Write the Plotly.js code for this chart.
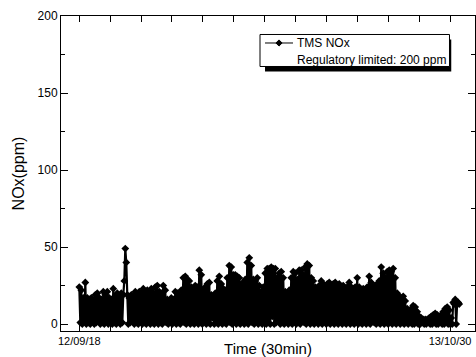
<!DOCTYPE html>
<html><head><meta charset="utf-8">
<script src="https://cdn.plot.ly/plotly-3.0.1.min.js"></script>
<style>html,body{margin:0;padding:0;background:#fff}#chart{width:476px;height:357px}</style>
</head><body><div id="chart"></div>
<script>
// Time axis: 2012-09-18 → 2013-10-30
const startLabel = '12/09/18';
const endLabel = '13/10/30';
const spanDays = 407;
const tickIntervals = 12;
const daysPerSample = 2.195;
const seriesName = 'TMS NOx';
const noteText = 'Regulatory limited: 200 ppm';

// NOx readings (ppm): local highs
const peaks = [
  24,22,17,27,17,16,17,15,19,20,
  17,16,21,19,21,17,16,23,18,20,
  18,20,19,49,19,17,19,18,21,19,
  21,20,23,21,22,21,23,20,24,25,
  21,20,25,22,16,15,17,16,21,20,
  18,22,30,31,29,28,24,22,25,24,
  35,32,22,24,26,27,19,18,20,28,
  31,26,23,22,30,38,37,32,32,31,
  30,26,27,29,40,43,38,29,28,30,
  25,21,24,33,36,36,37,36,36,30,
  33,34,30,21,20,22,30,34,33,29,
  35,35,32,37,39,38,30,28,24,23,
  25,28,26,25,26,27,25,26,27,25,
  26,24,25,23,24,27,24,23,24,30,
  24,22,23,21,24,31,27,24,25,26,
  28,37,33,30,34,35,34,36,30,20,
  18,17,18,15,10,8,10,12,11,8,
  5,4,3,3,3,4,5,6,7,6,
  5,6,8,10,11,9,4,14,16,14,
  13
];
// NOx readings (ppm): local lows between the highs
const troughs = [
  1,0,2,0,1,0,3,0,1,2,
  0,1,0,2,0,1,0,1,0,2,
  0,1,28,40,0,1,2,0,1,0,
  2,0,1,0,3,0,1,0,2,0,
  1,0,2,1,0,1,0,2,0,1,
  0,2,1,0,3,0,1,0,2,0,
  1,0,2,0,1,0,4,0,1,0,
  2,0,1,0,2,1,0,3,0,1,
  0,2,0,1,0,2,1,0,3,0,
  1,0,2,0,1,0,5,0,1,2,
  0,1,0,3,0,1,0,2,0,1,
  0,2,1,0,3,0,1,0,2,0,
  1,0,2,0,1,0,3,0,1,0,
  2,0,1,0,2,0,1,0,3,0,
  1,0,2,0,1,0,2,1,0,1,
  0,2,0,1,0,3,0,1,0,2,
  0,1,0,1,0,1,0,0,1,0,
  0,1,0,0,1,0,0,1,0,0,
  1,0,0,1,0,0,0,13,0,14
];

const t = [], v = [];
for (let i = 0; i < peaks.length; i++) {
  t.push(i * daysPerSample); v.push(peaks[i]);
  if (i < troughs.length) { t.push((i + 0.5) * daysPerSample); v.push(troughs[i]); }
}
const xTickVals = [], xTickText = [];
for (let k = 0; k <= tickIntervals; k++) {
  xTickVals.push(k * spanDays / tickIntervals);
  xTickText.push(k === 0 ? startLabel : (k === tickIntervals ? endLabel : ''));
}

const font = 'Liberation Sans, Arial, Helvetica, sans-serif';
const data = [
  {x: t, y: v, type: 'scatter', mode: 'lines+markers', name: seriesName, showlegend: false,
   line: {color: '#000', width: 2.2}, marker: {symbol: 'diamond', size: 6, color: '#000'}}
];

// Legend box drawn in paper coordinates (with Origin-style drop shadow)
const lg = {x0: 0.4807, x1: 0.9384, y0: 0.8397, y1: 0.9413, sx: 0.0121, sy: 0.0159,
  symX0: 0.4928, symX1: 0.5604, symXc: 0.5266, row1: 0.9143, row2: 0.8603, textX: 0.5676,
  dx: 0.0075, dy: 0.0098};
const diamond = `M ${lg.symXc - lg.dx},${lg.row1} L ${lg.symXc},${lg.row1 + lg.dy} L ${lg.symXc + lg.dx},${lg.row1} L ${lg.symXc},${lg.row1 - lg.dy} Z`;

const layout = {
  width: 476, height: 357,
  margin: {l: 61, r: 1, t: 16, b: 26},
  paper_bgcolor: '#fff', plot_bgcolor: '#fff',
  font: {family: font, color: '#000', size: 12},
  showlegend: false,
  shapes: [
    {type: 'rect', xref: 'paper', yref: 'paper', layer: 'above',
     x0: lg.x0 + lg.sx, x1: lg.x1 + lg.sx * 0.35, y0: lg.y0 - lg.sy, y1: lg.y1 - lg.sy,
     fillcolor: '#000', line: {width: 0}},
    {type: 'rect', xref: 'paper', yref: 'paper', layer: 'above',
     x0: lg.x0, x1: lg.x1, y0: lg.y0, y1: lg.y1,
     fillcolor: '#fff', line: {color: '#000', width: 1}},
    {type: 'line', xref: 'paper', yref: 'paper', layer: 'above',
     x0: lg.symX0, x1: lg.symX1, y0: lg.row1, y1: lg.row1, line: {color: '#000', width: 1}},
    {type: 'path', xref: 'paper', yref: 'paper', layer: 'above', path: diamond,
     fillcolor: '#000', line: {color: '#000', width: 1}}
  ],
  annotations: [
    {xref: 'paper', yref: 'paper', x: lg.textX, y: lg.row1, xanchor: 'left', yanchor: 'middle',
     text: seriesName, showarrow: false, font: {size: 12}, borderpad: 0},
    {xref: 'paper', yref: 'paper', x: lg.textX, y: lg.row2, xanchor: 'left', yanchor: 'middle',
     text: noteText, showarrow: false, font: {size: 12}, borderpad: 0}
  ],
  xaxis: {range: [-20.1, 434.4], tickmode: 'array', tickvals: xTickVals, ticktext: xTickText,
    ticks: 'inside', ticklen: 6, tickcolor: '#000', tickwidth: 1,
    showline: true, mirror: 'ticks', linecolor: '#000', linewidth: 1,
    showgrid: false, zeroline: false, tickfont: {size: 11},
    title: {text: 'Time (30min)', font: {size: 15}, standoff: 3}},
  yaxis: {range: [-4.5, 200], tickmode: 'linear', tick0: 0, dtick: 50,
    ticks: 'inside', ticklen: 7, tickcolor: '#000', tickwidth: 1,
    minor: {dtick: 25, ticks: 'inside', ticklen: 4, tickcolor: '#000', showgrid: false},
    showline: true, mirror: 'ticks', linecolor: '#000', linewidth: 1,
    showgrid: false, zeroline: false, tickfont: {size: 12},
    title: {text: 'NOx(ppm)', font: {size: 16}, standoff: 8}}
};
Plotly.newPlot('chart', data, layout, {staticPlot: true});
</script></body></html>
